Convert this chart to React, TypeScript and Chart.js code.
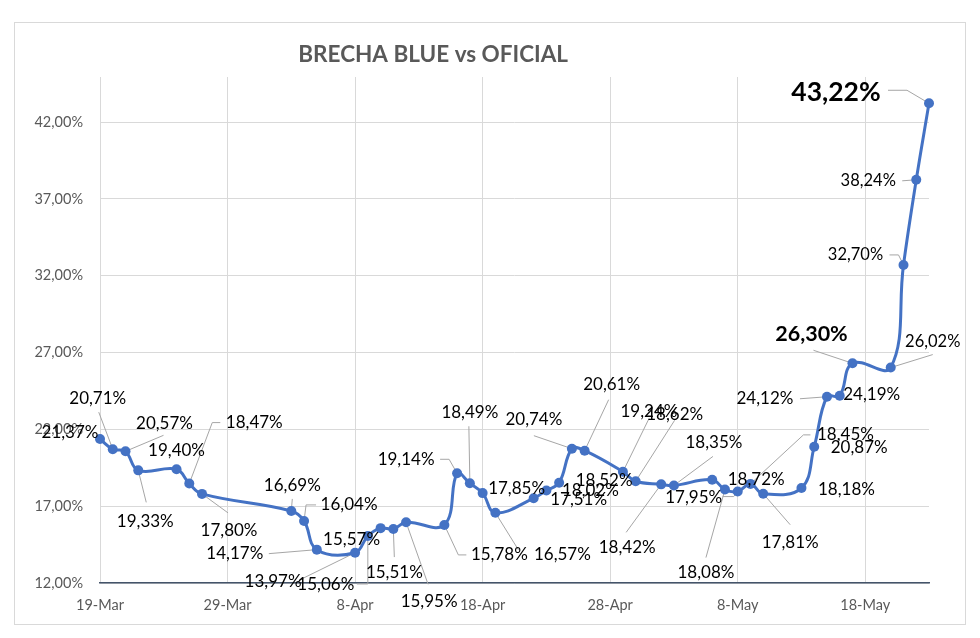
import React, { useEffect, useRef } from "react";
import { Chart, registerables } from "chart.js";

Chart.register(...registerables);

// ---- Data ----
const titulo = "BRECHA BLUE vs OFICIAL";
const fechaInicio = "2019-03-19";
const fechas = [
  "2019-03-19", "2019-03-20", "2019-03-21", "2019-03-22", "2019-03-25", "2019-03-26", "2019-03-27",
  "2019-04-03", "2019-04-04", "2019-04-05", "2019-04-08", "2019-04-09", "2019-04-10", "2019-04-11",
  "2019-04-12", "2019-04-15", "2019-04-16", "2019-04-17", "2019-04-18", "2019-04-19", "2019-04-22",
  "2019-04-23", "2019-04-24", "2019-04-25", "2019-04-26", "2019-04-29", "2019-04-30", "2019-05-02",
  "2019-05-03", "2019-05-06", "2019-05-07", "2019-05-08", "2019-05-09", "2019-05-10", "2019-05-13",
  "2019-05-14", "2019-05-15", "2019-05-16", "2019-05-17", "2019-05-20", "2019-05-21", "2019-05-22",
  "2019-05-23",
];
const brecha = [
  21.37, 20.71, 20.57, 19.33, 19.40, 18.47, 17.80,
  16.69, 16.04, 14.17, 13.97, 15.06, 15.57, 15.51,
  15.95, 15.78, 19.14, 18.49, 17.85, 16.57, 17.51,
  18.02, 18.52, 20.74, 20.61, 19.24, 18.62, 18.42,
  18.35, 18.72, 18.08, 17.95, 18.45, 17.81, 18.18,
  20.87, 24.12, 24.19, 26.30, 26.02, 32.70, 38.24,
  43.22,
];
const ejeXTicks = [0, 10, 20, 30, 40, 50, 60];
const ejeXEtiquetas = ["19-Mar", "29-Mar", "8-Apr", "18-Apr", "28-Apr", "8-May", "18-May"];
const ejeYTicks = [12, 17, 22, 27, 32, 37, 42];
const ejeXMax = 65;
const ejeYMin = 12;
const ejeYMax = 44.93;

// ---- Label placement (offsets from each point, in px) ----
type Lbl = { dx: number; dy: number; lead?: number[][]; size?: number; bold?: boolean };
const etiquetas: Lbl[] = [
  { dx: -30, dy: -7 },
  { dx: -15, dy: -51, lead: [[-14, -37]] },
  { dx: 39, dy: -28, lead: [[38, -16]] },
  { dx: 7, dy: 51, lead: [[8, 32]] },
  { dx: 0, dy: -19 },
  { dx: 65, dy: -61, lead: [[31, -61], [23, -61]] },
  { dx: 27, dy: 37, lead: [[26, 19]] },
  { dx: 1, dy: -25, lead: [[1, -12]] },
  { dx: 45, dy: -16, lead: [[12, -16], [2, -16]] },
  { dx: -82, dy: 4, lead: [[-48, 4]] },
  { dx: -82, dy: 29, lead: [[-55, 27]] },
  { dx: -42, dy: 49, lead: [[-11, 48], [0, 48]] },
  { dx: -29, dy: 11 },
  { dx: 1, dy: 43, lead: [[1, 28]] },
  { dx: 23, dy: 79, lead: [[22, 62]] },
  { dx: 55, dy: 30, lead: [[22, 30], [14, 30]] },
  { dx: -51, dy: -14, lead: [[-17, -14], [-8, -14]] },
  { dx: 0, dy: -71, lead: [[-1, -57]] },
  { dx: 34, dy: -5 },
  { dx: 67, dy: 42, lead: [[23, 37]] },
  { dx: 45, dy: 1 },
  { dx: 44, dy: 0 },
  { dx: 45, dy: -2 },
  { dx: -38, dy: -29, lead: [[-38, -13]] },
  { dx: 27, dy: -66, lead: [[24, -51]] },
  { dx: 26, dy: -60, lead: [[26, -53]] },
  { dx: 39, dy: -67, lead: [[39, -61]] },
  { dx: -34, dy: 63, lead: [[-35, 48]] },
  { dx: 40, dy: -43, lead: [[39, -29]] },
  { dx: 44, dy: 0 },
  { dx: -19, dy: 83, lead: [[-19, 68]] },
  { dx: -44, dy: 6, lead: [[-15, 5], [-4, 5]] },
  { dx: 95, dy: -49, lead: [[60, -49], [53, -49]] },
  { dx: 27, dy: 49, lead: [[27, 31]] },
  { dx: 45, dy: 1 },
  { dx: 45, dy: 1 },
  { dx: -62, dy: 2, lead: [[-27, 2]] },
  { dx: 32, dy: -1 },
  { dx: -41, dy: -29, lead: [[-39, -13]], size: 21.5, bold: true },
  { dx: 42, dy: -26, lead: [[42, -13]], size: 16.5 },
  { dx: -48, dy: -10, lead: [[-14, -10], [-5, -10]], size: 16.5 },
  { dx: -48, dy: 1, lead: [[-14, 1]], size: 16.5 },
  { dx: -93, dy: -11, lead: [[-41, -13], [-22, -13]], size: 26.5, bold: true },
];

const FONT = "Lato, 'Open Sans', sans-serif";
const fmt = (v: number) => v.toFixed(2).replace(".", ",") + "%";
const diaDesde = (f: string) =>
  Math.round((Date.parse(f + "T00:00:00Z") - Date.parse(fechaInicio + "T00:00:00Z")) / 86400000);

const framePlugin = {
  id: "frame",
  beforeDraw(chart: any) {
    const { ctx, width, height } = chart;
    ctx.save();
    ctx.fillStyle = "#ffffff";
    ctx.fillRect(0, 0, width, height);
    ctx.strokeStyle = "#d9d9d9";
    ctx.lineWidth = 1;
    ctx.strokeRect(14.5, 22.5, width - 29, height - 36);
    ctx.fillStyle = "#595959";
    ctx.font = `bold 22.5px ${FONT}`;
    ctx.textAlign = "center";
    ctx.textBaseline = "middle";
    ctx.fillText(titulo, width * 0.442, 55);
    ctx.restore();
  },
};

const labelPlugin = {
  id: "labels",
  beforeDatasetsDraw(chart: any) {
    const ctx = chart.ctx;
    const meta = chart.getDatasetMeta(0);
    ctx.save();
    ctx.strokeStyle = "#a6a6a6";
    ctx.lineWidth = 1;
    meta.data.forEach((pt: any, i: number) => {
      const L = etiquetas[i];
      if (!L || !L.lead) return;
      ctx.beginPath();
      ctx.moveTo(pt.x + L.lead[0][0], pt.y + L.lead[0][1]);
      for (let k = 1; k < L.lead.length; k++) ctx.lineTo(pt.x + L.lead[k][0], pt.y + L.lead[k][1]);
      ctx.lineTo(pt.x, pt.y);
      ctx.stroke();
    });
    ctx.restore();
  },
  afterDatasetsDraw(chart: any) {
    const ctx = chart.ctx;
    const meta = chart.getDatasetMeta(0);
    ctx.save();
    ctx.fillStyle = "#000000";
    ctx.textAlign = "center";
    ctx.textBaseline = "middle";
    meta.data.forEach((pt: any, i: number) => {
      const L = etiquetas[i];
      if (!L) return;
      ctx.font = `${L.bold ? "bold " : ""}${L.size || 17}px ${FONT}`;
      ctx.fillText(fmt(brecha[i]), pt.x + L.dx, pt.y + L.dy);
    });
    ctx.restore();
  },
};

export default function App() {
  const ref = useRef<HTMLCanvasElement | null>(null);
  useEffect(() => {
    if (!ref.current) return;
    const puntos = fechas.map((f, i) => ({ x: diaDesde(f), y: brecha[i] }));
    const chart = new Chart(ref.current, {
      type: "line",
      data: {
        datasets: [
          {
            data: puntos,
            borderColor: "#4472C4",
            backgroundColor: "#4472C4",
            borderWidth: 3,
            pointRadius: 5,
            pointBackgroundColor: "#4472C4",
            pointBorderColor: "#4472C4",
            pointBorderWidth: 0,
            tension: 0.4,
            clip: false as any,
          },
        ],
      },
      options: {
        animation: false,
        responsive: false,
        devicePixelRatio: 1,
        layout: { padding: { left: 0, right: 51, top: 77, bottom: 0 } },
        plugins: {
          legend: { display: false },
          tooltip: { enabled: false },
          title: { display: false },
        },
        scales: {
          x: {
            type: "linear",
            min: 0,
            max: ejeXMax,
            afterBuildTicks: (s: any) => {
              s.ticks = ejeXTicks.map((v) => ({ value: v }));
            },
            afterFit: (s: any) => {
              s.height = 55;
            },
            grid: { color: "#d9d9d9", lineWidth: 1, drawTicks: false },
            border: { display: true, color: "#44546A", width: 1.5 },
            ticks: {
              padding: 14,
              color: "#595959",
              autoSkip: false,
              maxRotation: 0,
              font: { family: FONT, size: 14.5 },
              callback: (v: any) => {
                const idx = ejeXTicks.indexOf(Number(v));
                return idx >= 0 ? ejeXEtiquetas[idx] : "";
              },
            },
          },
          y: {
            type: "linear",
            min: ejeYMin,
            max: ejeYMax,
            afterBuildTicks: (s: any) => {
              s.ticks = ejeYTicks.map((v) => ({ value: v }));
            },
            afterFit: (s: any) => {
              s.width = 100;
            },
            grid: { color: "#d9d9d9", lineWidth: 1, drawTicks: false },
            border: { display: false },
            ticks: {
              padding: 17,
              color: "#595959",
              font: { family: FONT, size: 14.5 },
              callback: (v: any) => fmt(Number(v)),
            },
          },
        },
      },
      plugins: [framePlugin, labelPlugin],
    });
    return () => chart.destroy();
  }, []);
  return (
    <div style={{ position: "absolute", left: 0, top: 0, width: 980, height: 638 }}>
      <canvas ref={ref} width={980} height={638} style={{ width: 980, height: 638, display: "block" }} />
    </div>
  );
}
